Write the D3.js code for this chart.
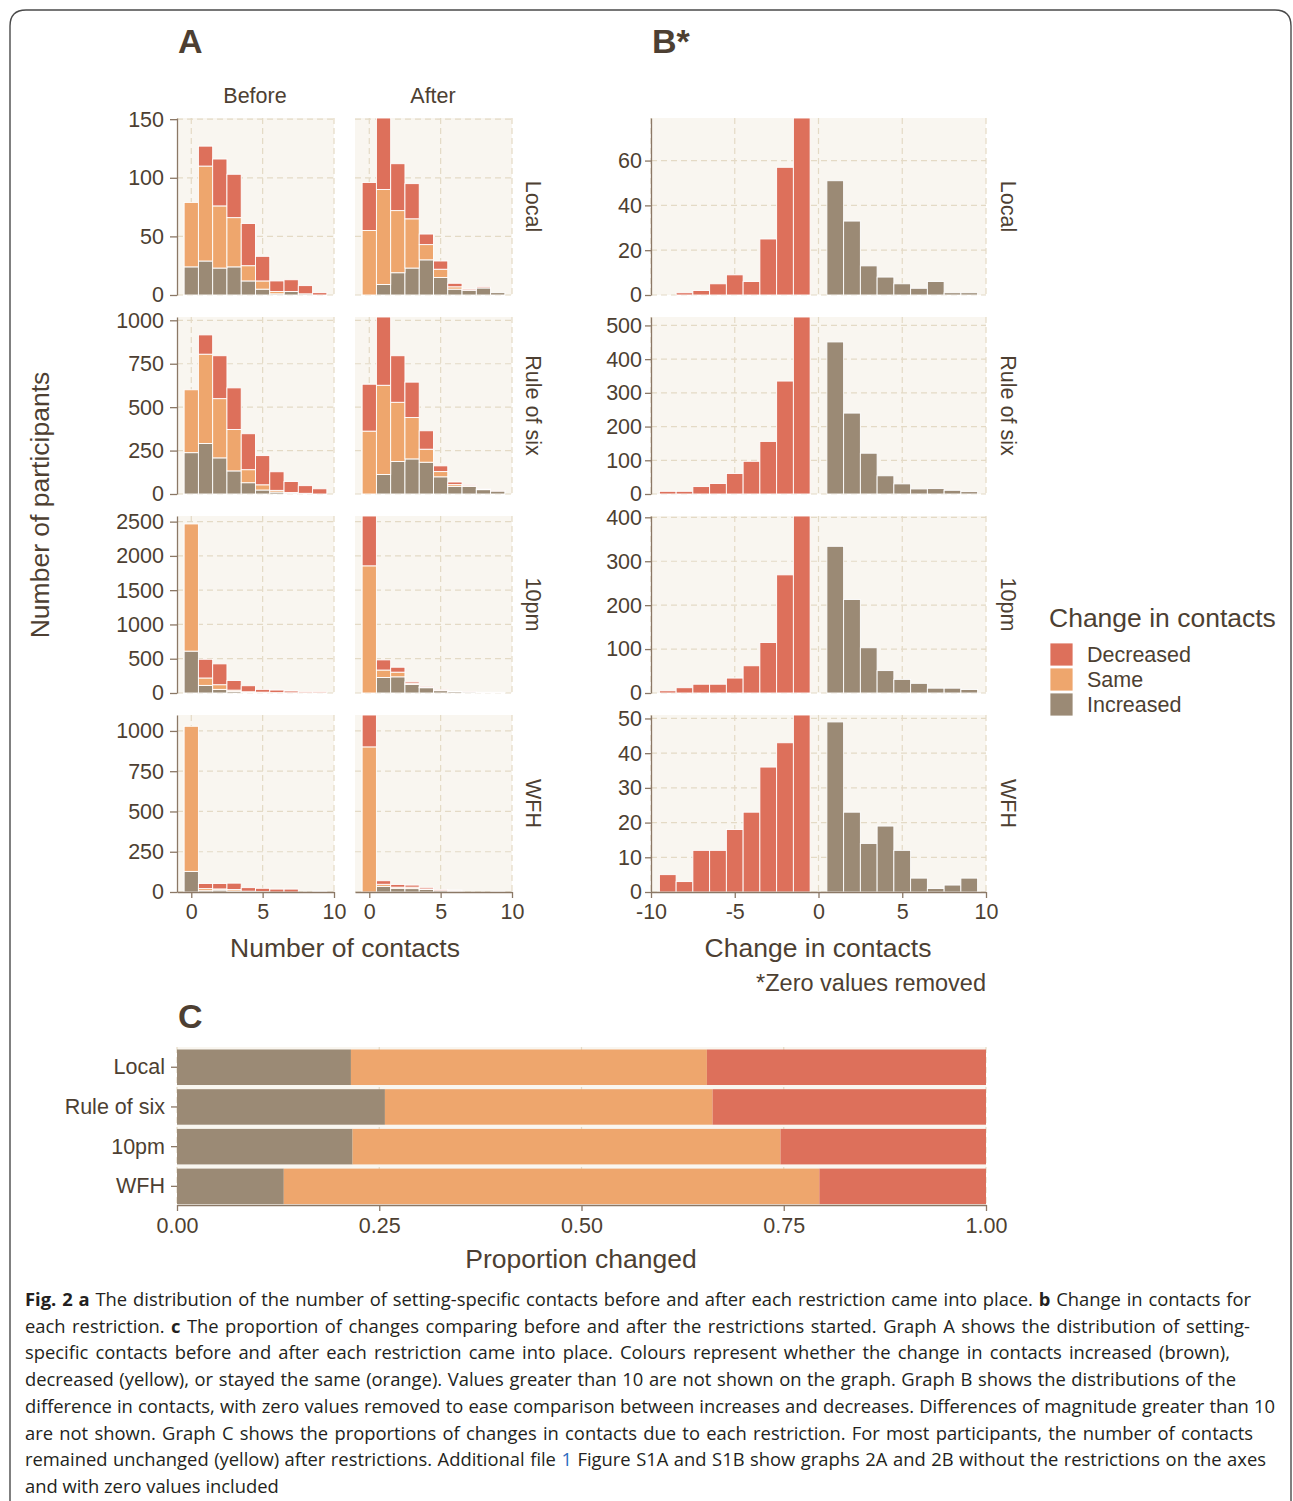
<!DOCTYPE html>
<html>
<head>
<meta charset="utf-8">
<script src="https://cdn.jsdelivr.net/npm/d3@7"></script>
<style>
  body { margin: 0; background: #fff; }
  svg { display: block; }
</style>
</head>
<body>
<svg id="fig" width="1293" height="1501"></svg>
<script>
// ---------- data ----------
const restrictions = ["Local", "Rule of six", "10pm", "WFH"];
const contactBins = [0, 1, 2, 3, 4, 5, 6, 7, 8, 9];
const changeTypes = ["Decreased", "Same", "Increased"];

// A: participants by number of setting-specific contacts (rows follow `restrictions`)
const beforeIncreased = [
  [24, 29, 23, 24, 12, 5, 1, 3, 1, 0],
  [238, 291, 208, 133, 65, 23, 11, 6, 4, 0],
  [611, 111, 53, 24, 14, 10, 5, 3, 2, 2],
  [128, 8, 12, 6, 2, 2, 0, 0, 0, 0]
];
const beforeDecreased = [
  [0, 17, 40, 37, 36, 21, 9, 10, 7, 2],
  [0, 111, 247, 240, 207, 168, 107, 63, 44, 30],
  [0, 273, 304, 141, 88, 41, 38, 26, 17, 17],
  [0, 32, 34, 40, 22, 21, 18, 18, 0, 5]
];
const afterIncreased = [
  [0, 9, 19, 23, 30, 15, 5, 4, 6, 2],
  [0, 112, 187, 202, 183, 99, 44, 44, 25, 17],
  [0, 227, 236, 125, 77, 34, 20, 16, 8, 8],
  [0, 35, 23, 21, 16, 8, 6, 0, 0, 0]
];
const afterDecreased = [
  [41, 61, 40, 30, 9, 7, 3, 1, 1, 0],
  [270, 393, 268, 204, 106, 33, 15, 6, 4, 2],
  [727, 148, 72, 21, 16, 12, 4, 3, 2, 2],
  [198, 22, 17, 13, 10, 8, 6, 0, 0, 4]
];
// unchanged participants sit in the same bin before and after
const sameCounts = [
  [55, 81, 53, 42, 13, 7, 2, 0, 0, 0],
  [362, 514, 341, 238, 75, 30, 10, 3, 0, 0],
  [1855, 108, 68, 18, 4, 2, 0, 0, 0, 0],
  [901, 13, 7, 9, 3, 0, 0, 0, 0, 0]
];

// B: change in contacts, zero removed
const decreaseSteps = [-9, -8, -7, -6, -5, -4, -3, -2, -1];
const increaseSteps = [1, 2, 3, 4, 5, 6, 7, 8, 9];
const changeDecreased = [
  [0, 1, 2, 5, 9, 6, 25, 57, 79],
  [8, 8, 22, 31, 61, 97, 156, 335, 525],
  [5, 12, 20, 20, 34, 62, 115, 269, 403],
  [5, 3, 12, 12, 18, 23, 36, 43, 51]
];
const changeIncreased = [
  [51, 33, 13, 8, 5, 3, 6, 1, 1],
  [451, 240, 121, 54, 30, 15, 16, 11, 7],
  [334, 213, 103, 51, 31, 22, 11, 11, 8],
  [49, 23, 14, 19, 12, 4, 1, 2, 4]
];

// C: proportions per restriction
const propIncreased = [0.215, 0.257, 0.217, 0.132];
const propSame = [0.440, 0.405, 0.529, 0.662];
const propDecreased = [0.345, 0.338, 0.254, 0.206];

// tick labels
const countTicks = [
  [0, 50, 100, 150],
  [0, 250, 500, 750, 1000],
  [0, 500, 1000, 1500, 2000, 2500],
  [0, 250, 500, 750, 1000]
];
const changeTicks = [
  [0, 20, 40, 60],
  [0, 100, 200, 300, 400, 500],
  [0, 100, 200, 300, 400],
  [0, 10, 20, 30, 40, 50]
];
const contactTicks = [0, 5, 10];
const changeXTicks = [-10, -5, 0, 5, 10];
const propTicks = [0, 0.25, 0.5, 0.75, 1];

// ---------- style ----------
const colour = d3.scaleOrdinal()
  .domain(changeTypes)
  .range(["#dd705b", "#eea66d", "#9b8a75"]);
const ink = "#4d3f32";
const axisInk = "#8b7866";
const panelFill = "#f9f6f0";
const gridInk = "#e4dac5";
const chartFont = "'Liberation Sans', Arial, sans-serif";
const tickSize = 21.5;
const titleSize = 26.5;
const plain = d => String(d);   // hyphen minus, no thousands separator

const svg = d3.select("#fig");
svg.append("rect").attr("width", 1293).attr("height", 1501).attr("fill", "#fff");

// outer frame
svg.append("path")
  .attr("d", "M10,1501 V26 Q10,10 26,10 H1275 Q1291,10 1291,26 V1501")
  .attr("fill", "none").attr("stroke", "#4a4a4a").attr("stroke-width", 1.4);

const rowTop = i => 118 + i * 199;
const rowH = 177;

function styleAxis(g) {
  g.selectAll(".domain").attr("stroke", axisInk).attr("stroke-width", 1.3);
  g.selectAll(".tick line").attr("stroke", axisInk).attr("stroke-width", 1.3);
  g.selectAll(".tick text").attr("fill", ink)
    .style("font-family", chartFont).style("font-size", tickSize + "px");
}

function panelBase(g, x, y, xTicks, yTicks) {
  const [x0, x1] = x.range();
  const [y0, y1] = y.range();
  g.append("rect").attr("x", x0).attr("y", y1).attr("width", x1 - x0).attr("height", y0 - y1)
    .attr("fill", panelFill);
  g.selectAll("line.hgrid").data(yTicks).join("line").attr("class", "hgrid")
    .attr("x1", x0).attr("x2", x1).attr("y1", d => y(d)).attr("y2", d => y(d))
    .attr("stroke", gridInk).attr("stroke-dasharray", "6,4").attr("stroke-width", 1.2);
  g.selectAll("line.vgrid").data(xTicks).join("line").attr("class", "vgrid")
    .attr("x1", d => x(d)).attr("x2", d => x(d)).attr("y1", y1).attr("y2", y0)
    .attr("stroke", gridInk).attr("stroke-dasharray", "6,4").attr("stroke-width", 1.2);
}

// ---------- panel A ----------
const xBefore = d3.scaleLinear().domain([-1, 10]).range([177, 334]);
const xAfter = d3.scaleLinear().domain([-1, 10]).range([355, 512]);
const stackKeys = ["Increased", "Same", "Decreased"];
const stacker = d3.stack().keys(stackKeys);

restrictions.forEach((r, i) => {
  const top = rowTop(i), bottom = top + rowH;
  const beforeRows = contactBins.map((c, k) => ({
    c, Increased: beforeIncreased[i][k], Same: sameCounts[i][k], Decreased: beforeDecreased[i][k]
  }));
  const afterRows = contactBins.map((c, k) => ({
    c, Increased: afterIncreased[i][k], Same: sameCounts[i][k], Decreased: afterDecreased[i][k]
  }));
  const yMax = d3.max(beforeRows.concat(afterRows), d => d.Increased + d.Same + d.Decreased);
  const y = d3.scaleLinear().domain([0, yMax]).range([bottom, top]);

  [[xBefore, beforeRows], [xAfter, afterRows]].forEach(([x, rows], f) => {
    const g = svg.append("g");
    panelBase(g, x, y, contactTicks, countTicks[i]);
    const series = stacker(rows);
    g.selectAll("g.layer").data(series).join("g").attr("class", "layer")
      .attr("fill", s => colour(s.key))
      .selectAll("rect").data(s => s.filter(d => d[1] > d[0])).join("rect")
      .attr("x", d => x(d.data.c - 0.5))
      .attr("width", d => x(d.data.c + 0.5) - x(d.data.c - 0.5))
      .attr("y", d => y(d[1]))
      .attr("height", d => y(d[0]) - y(d[1]))
      .attr("stroke", "#fff").attr("stroke-width", 0.9);

    if (f === 0) {
      const ax = g.append("g").attr("transform", `translate(${x.range()[0]},0)`)
        .call(d3.axisLeft(y).tickValues(countTicks[i]).tickFormat(plain)
          .tickSize(7).tickSizeOuter(0).tickPadding(6));
      styleAxis(ax);
    }
    if (i === restrictions.length - 1) {
      const ax = g.append("g").attr("transform", `translate(0,${bottom})`)
        .call(d3.axisBottom(x).tickValues(contactTicks).tickFormat(plain)
          .tickSize(6).tickSizeOuter(0).tickPadding(6));
      styleAxis(ax);
    }
  });

  svg.append("text")
    .attr("transform", `translate(526,${top + rowH / 2}) rotate(90)`)
    .attr("text-anchor", "middle").attr("fill", ink)
    .style("font-family", chartFont).style("font-size", tickSize + "px")
    .text(r);
});

// ---------- panel B ----------
const xChange = d3.scaleLinear().domain([-10, 10]).range([651, 986]);
restrictions.forEach((r, i) => {
  const top = rowTop(i), bottom = top + rowH;
  const dec = decreaseSteps.map((v, k) => ({ v, n: changeDecreased[i][k], type: "Decreased" }));
  const inc = increaseSteps.map((v, k) => ({ v, n: changeIncreased[i][k], type: "Increased" }));
  const all = dec.concat(inc);
  const y = d3.scaleLinear().domain([0, d3.max(all, d => d.n)]).range([bottom, top]);
  const g = svg.append("g");
  panelBase(g, xChange, y, changeXTicks, changeTicks[i]);
  g.selectAll("rect.bar").data(all.filter(d => d.n > 0)).join("rect").attr("class", "bar")
    .attr("x", d => xChange(d.v - 0.5))
    .attr("width", d => xChange(d.v + 0.5) - xChange(d.v - 0.5))
    .attr("y", d => y(d.n))
    .attr("height", d => y(0) - y(d.n))
    .attr("fill", d => colour(d.type))
    .attr("stroke", "#fff").attr("stroke-width", 0.9);

  const ay = g.append("g").attr("transform", "translate(651,0)")
    .call(d3.axisLeft(y).tickValues(changeTicks[i]).tickFormat(plain)
      .tickSize(6).tickSizeOuter(0).tickPadding(3));
  styleAxis(ay);
  if (i === restrictions.length - 1) {
    const ax = g.append("g").attr("transform", `translate(0,${bottom})`)
      .call(d3.axisBottom(xChange).tickValues(changeXTicks).tickFormat(plain)
        .tickSize(6).tickSizeOuter(0).tickPadding(6));
    styleAxis(ax);
  }
  svg.append("text")
    .attr("transform", `translate(1001,${top + rowH / 2}) rotate(90)`)
    .attr("text-anchor", "middle").attr("fill", ink)
    .style("font-family", chartFont).style("font-size", tickSize + "px")
    .text(r);
});

// ---------- titles & labels for A / B ----------
function label(x, y, txt, size, opts = {}) {
  const t = svg.append("text").attr("x", x).attr("y", y)
    .attr("text-anchor", opts.anchor || "start")
    .attr("dominant-baseline", "central")
    .attr("fill", opts.fill || ink)
    .style("font-family", opts.font || chartFont)
    .style("font-size", size + "px")
    .style("font-weight", opts.weight || "normal")
    .text(txt);
  if (opts.rotate) t.attr("transform", `rotate(${opts.rotate},${x},${y})`);
  return t;
}
const letterFont = "'Liberation Sans Narrow', 'Liberation Sans', Arial, sans-serif";
label(178, 41, "A", 34, { weight: "bold", font: letterFont });
label(652, 41, "B*", 34, { weight: "bold", font: letterFont });
label(178, 1016, "C", 34, { weight: "bold", font: letterFont });
label(255, 96, "Before", tickSize, { anchor: "middle" });
label(433, 96, "After", tickSize, { anchor: "middle" });
label(40, 505, "Number of participants", titleSize, { anchor: "middle", rotate: -90 });
label(345, 948, "Number of contacts", titleSize, { anchor: "middle" });
label(818, 948, "Change in contacts", titleSize, { anchor: "middle" });
label(986, 983, "*Zero values removed", 23.5, { anchor: "end" });

// legend
label(1049, 618, "Change in contacts", titleSize);
changeTypes.forEach((t, k) => {
  svg.append("rect").attr("x", 1050).attr("y", 643 + k * 25).attr("width", 23).attr("height", 23)
    .attr("fill", colour(t)).attr("stroke", "#fff").attr("stroke-width", 0.8);
  label(1087, 655 + k * 25, t, tickSize);
});

// ---------- panel C ----------
const xProp = d3.scaleLinear().domain([0, 1]).range([177, 986]);
const yBand = d3.scaleBand().domain(restrictions).range([1047.4, 1206.2])
  .paddingInner(0.106).paddingOuter(0.053);
const propRows = restrictions.map((r, i) => ({
  r, Increased: propIncreased[i], Same: propSame[i], Decreased: propDecreased[i]
}));
const gc = svg.append("g");
gc.append("rect").attr("x", 177).attr("y", 1047).attr("width", 809).attr("height", 158)
  .attr("fill", panelFill);
gc.selectAll("line.vgrid").data(propTicks).join("line").attr("class", "vgrid")
  .attr("x1", d => xProp(d)).attr("x2", d => xProp(d)).attr("y1", 1047).attr("y2", 1205)
  .attr("stroke", gridInk).attr("stroke-dasharray", "6,4").attr("stroke-width", 1.2);
gc.selectAll("g.layer").data(stacker(propRows)).join("g").attr("class", "layer")
  .attr("fill", s => colour(s.key))
  .selectAll("rect").data(s => s).join("rect")
  .attr("x", d => xProp(d[0]))
  .attr("width", d => xProp(d[1]) - xProp(d[0]))
  .attr("y", d => yBand(d.data.r))
  .attr("height", yBand.bandwidth());
const cy = gc.append("g").attr("transform", "translate(177,0)")
  .call(d3.axisLeft(yBand).tickSize(6).tickPadding(6));
styleAxis(cy);
cy.select(".domain").remove();
const cx = gc.append("g").attr("transform", "translate(0,1205)")
  .call(d3.axisBottom(xProp).tickValues(propTicks).tickFormat(d3.format(".2f"))
    .tickSize(6).tickSizeOuter(0).tickPadding(7));
styleAxis(cx);
label(581, 1259, "Proportion changed", titleSize, { anchor: "middle" });

// ---------- caption ----------
const capFont = "'Open Sans', 'Noto Sans', sans-serif";
const capLines = [
  { end: 1251, parts: [["Fig. 2 a", "b"], [" The distribution of the number of setting-specific contacts before and after each restriction came into place. "], ["b", "b"], [" Change in contacts for"]] },
  { end: 1250, parts: [["each restriction. "], ["c", "b"], [" The proportion of changes comparing before and after the restrictions started. Graph A shows the distribution of setting-"]] },
  { end: 1230, parts: [["specific contacts before and after each restriction came into place. Colours represent whether the change in contacts increased (brown),"]] },
  { end: 1236, parts: [["decreased (yellow), or stayed the same (orange). Values greater than 10 are not shown on the graph. Graph B shows the distributions of the"]] },
  { end: 1275, parts: [["difference in contacts, with zero values removed to ease comparison between increases and decreases. Differences of magnitude greater than 10"]] },
  { end: 1253, parts: [["are not shown. Graph C shows the proportions of changes in contacts due to each restriction. For most participants, the number of contacts"]] },
  { end: 1266, parts: [["remained unchanged (yellow) after restrictions. Additional file "], ["1", "link"], [" Figure S1A and S1B show graphs 2A and 2B without the restrictions on the axes"]] },
  { end: 283, parts: [["and with zero values included"]] }
];
const capX = 25;
const capTexts = capLines.map((ln, k) => {
  const t = svg.append("text").attr("x", capX).attr("y", 1306 + k * 26.7)
    .attr("fill", "#231f20")
    .style("font-family", capFont).style("font-size", "19px");
  ln.parts.forEach(([txt, kind]) => {
    const s = t.append("tspan").text(txt);
    if (kind === "b") s.style("font-weight", "bold");
    if (kind === "link") s.attr("fill", "#2d6cc0");
  });
  return t;
});
// pick one size so the widest line fits, then spread words to each line's measure
const overflow = d3.max(capTexts, (t, k) => t.node().getComputedTextLength() / (capLines[k].end - capX));
const capSize = 19 / Math.max(overflow, 1) * 0.995;
capTexts.forEach((t, k) => {
  t.style("font-size", capSize + "px");
  if (k === capLines.length - 1) return;
  const natural = t.node().getComputedTextLength();
  const spaces = (t.text().match(/ /g) || []).length;
  const extra = (capLines[k].end - capX - natural) / Math.max(spaces, 1);
  t.style("word-spacing", extra + "px");
});
</script>
</body>
</html>
